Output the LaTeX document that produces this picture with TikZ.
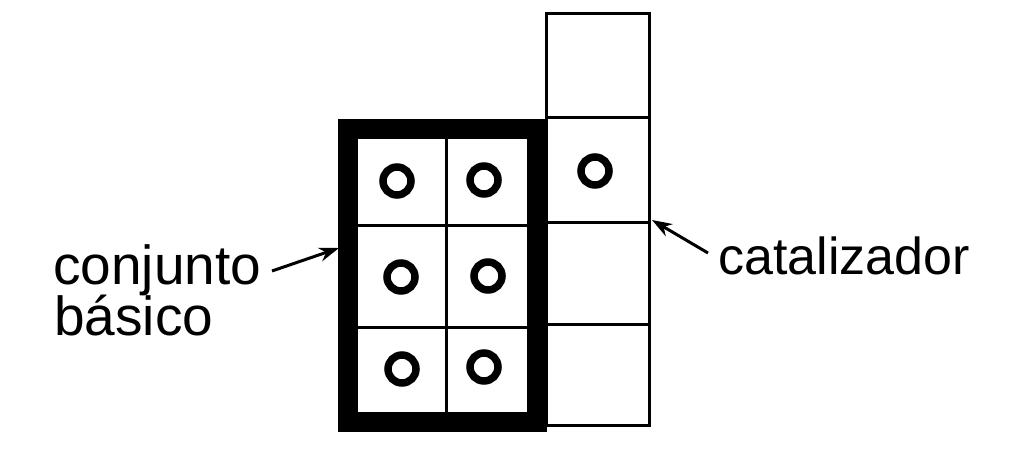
\documentclass[tikz,border=0pt]{standalone}
\usepackage{fontspec}
\setmainfont{Liberation Sans}
\usetikzlibrary{arrows.meta}
\tikzset{
  thin cell/.style={draw=black, line width=3pt},
  thick frame/.style={draw=black, line width=20pt},
  ring/.style={draw=black, line width=7.5pt},
  label text/.style={font=\fontsize{52}{60}\selectfont, inner sep=0pt},
  left label/.style={font=\fontsize{55}{62}\selectfont, inner sep=0pt},
  pointer/.style={draw=black, line width=3pt, -{Stealth[length=20pt,width=14pt]}}
}
\begin{document}
\begin{tikzpicture}[x=1pt,y=-1pt]
\useasboundingbox (0,0) rectangle (1024,465);
% right column
\draw[thin cell] (546,14) rectangle (649,118);
\draw[thin cell] (546,118) rectangle (649,222);
\draw[thin cell] (546,222) rectangle (649,324);
\draw[thin cell] (546,324) rectangle (649,425);
% inner grid of basic set
\draw[thin cell] (446,129) -- (446,422);
\draw[thin cell] (348,225) -- (537,225);
\draw[thin cell] (348,327) -- (537,327);
% thick frame
\draw[thick frame] (348,129) rectangle (537,422);
% rings
\foreach \p in {(397,181),(484,180),(595,171),(401,277),(488,276),(402,369),(484,367)}
  \draw[ring] \p circle (14);
% labels
\node[left label, anchor=base west] (conj) at (53,284) {conjunto};
\node[left label, anchor=base west] (bas) at (54,335) {básico};
\node[label text, anchor=base west] (cat) at (718,274) {catalizador};
% arrows
\coordinate (ltail) at (272,271);
\coordinate (ltip) at (339,248);
\coordinate (rtail) at (708,253);
\coordinate (rtip) at (652,220);
\draw[pointer] (ltail) -- (ltip);
\draw[pointer] (rtail) -- (rtip);
\end{tikzpicture}
\end{document}
